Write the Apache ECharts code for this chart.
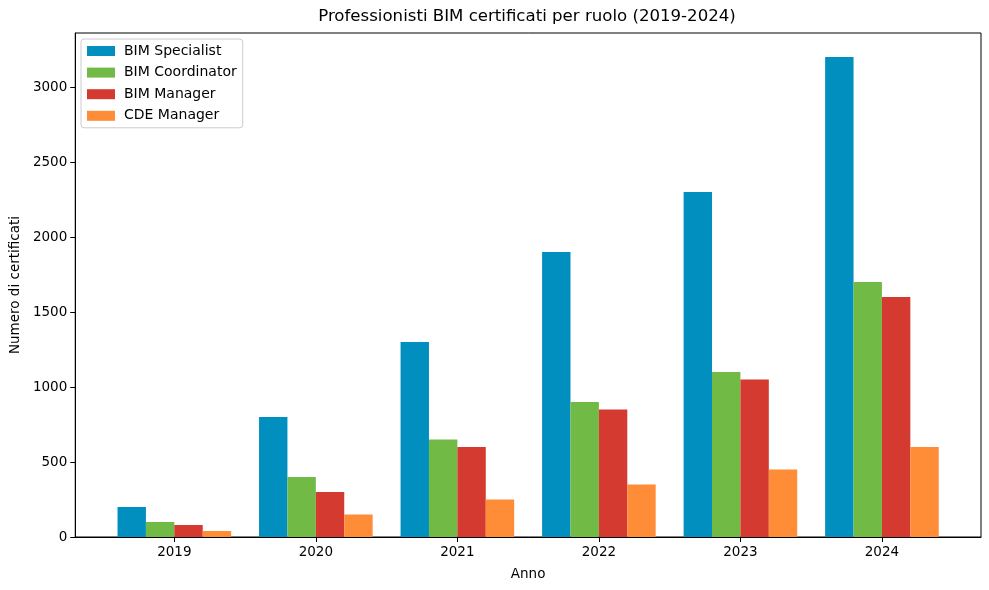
<!DOCTYPE html>
<html>
<head>
<meta charset="utf-8">
<script src="https://cdn.jsdelivr.net/npm/echarts@6/dist/echarts.min.js"></script>
<style>
html,body{margin:0;padding:0;background:#fff;}
#chart{width:989px;height:590px;}
</style>
</head>
<body>
<div id="chart"></div>
<script>
const years = ['2019', '2020', '2021', '2022', '2023', '2024'];
const seriesNames = ['BIM Specialist', 'BIM Coordinator', 'BIM Manager', 'CDE Manager'];
const bimSpecialist = [200, 800, 1300, 1900, 2300, 3200];
const bimCoordinator = [100, 400, 650, 900, 1100, 1700];
const bimManager = [80, 300, 600, 850, 1050, 1600];
const cdeManager = [40, 150, 250, 350, 450, 600];
const yTicks = [0, 500, 1000, 1500, 2000, 2500, 3000];
const colors = ['#008fbe', '#72ba46', '#d43a2f', '#ff8c37'];

const allSeries = [bimSpecialist, bimCoordinator, bimManager, cdeManager];
const font = 'DejaVu Sans';
const chart = echarts.init(document.getElementById('chart'));
const xIdx = years.map((_, i) => i);

chart.setOption({
  animation: false,
  backgroundColor: '#fff',
  graphic: [{
    type: 'text', x: 527, y: 17,
    style: {
      text: 'Professionisti BIM certificati per ruolo (2019-2024)',
      fontFamily: font, fontSize: 16.6, fill: '#000',
      align: 'center', verticalAlign: 'middle'
    }
  }],
  legend: {
    orient: 'vertical', left: 81, top: 39,
    itemWidth: 28, itemHeight: 10, itemGap: 7.6,
    icon: 'rect',
    padding: [5, 6, 5, 6],
    borderColor: '#cccccc', borderWidth: 1, borderRadius: 3,
    backgroundColor: 'rgba(255,255,255,0.8)',
    textStyle: {fontFamily: font, fontSize: 14, lineHeight: 14, color: '#000', padding: [0, 0, 0, 4]},
    data: seriesNames
  },
  grid: {left: 73, right: 8, top: 33, bottom: 53, show: true, borderColor: '#000', borderWidth: 1, containLabel: false},
  xAxis: {
    type: 'value', min: -0.7, max: 5.7,
    name: 'Anno', nameLocation: 'middle', nameGap: 30,
    nameTextStyle: {fontFamily: font, fontSize: 13.5, color: '#000'},
    splitLine: {show: false},
    axisLine: {show: true, onZero: false, lineStyle: {color: '#000', width: 1}},
    axisTick: {show: true, length: 5, lineStyle: {color: '#000'}, customValues: xIdx},
    axisLabel: {fontFamily: font, fontSize: 13.5, color: '#000', margin: 8, customValues: xIdx,
      formatter: v => years[Math.round(v)] || ''}
  },
  yAxis: {
    type: 'value', min: 0, max: 3360,
    name: 'Numero di certificati', nameLocation: 'middle', nameGap: 52,
    nameTextStyle: {fontFamily: font, fontSize: 13.5, color: '#000'},
    splitLine: {show: false},
    axisLine: {show: true, onZero: false, lineStyle: {color: '#000', width: 1}},
    axisTick: {show: true, length: 5, lineStyle: {color: '#000'}, customValues: yTicks},
    axisLabel: {fontFamily: font, fontSize: 13.5, color: '#000', margin: 8, customValues: yTicks,
      formatter: v => String(v)}
  },
  series: allSeries.map((vals, s) => ({
    name: seriesNames[s],
    type: 'bar',
    barWidth: 28.4,
    barGap: '0%',
    itemStyle: {color: colors[s]},
    data: vals.map((v, i) => [i, v])
  }))
});
</script>
</body>
</html>
